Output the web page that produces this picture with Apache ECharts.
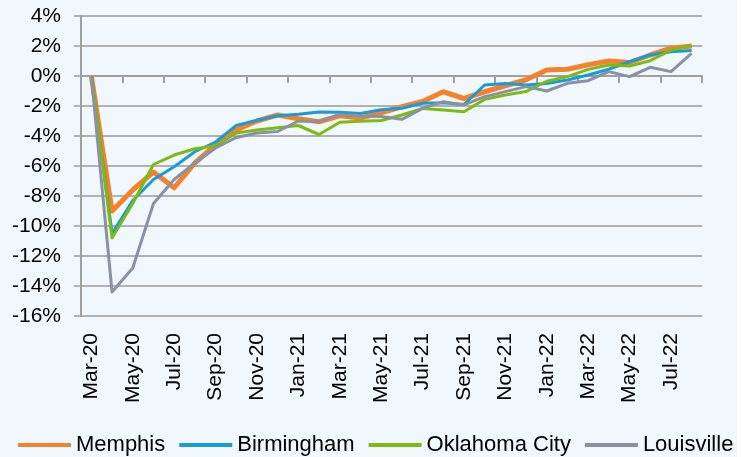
<!DOCTYPE html>
<html>
<head>
<meta charset="utf-8">
<script src="https://cdn.jsdelivr.net/npm/echarts@6/dist/echarts.min.js"></script>
<style>
html,body{margin:0;padding:0;background:#ffffff;}
#bg{position:absolute;left:0;top:0;width:737px;height:457px;background:#F0F8FE;}
#chart{position:absolute;left:0;top:0;width:743px;height:457px;}
</style>
</head>
<body>
<div id="bg"></div>
<div id="chart"></div>
<script>
const months = ['Mar-20','Apr-20','May-20','Jun-20','Jul-20','Aug-20','Sep-20','Oct-20','Nov-20','Dec-20',
  'Jan-21','Feb-21','Mar-21','Apr-21','May-21','Jun-21','Jul-21','Aug-21','Sep-21','Oct-21','Nov-21','Dec-21',
  'Jan-22','Feb-22','Mar-22','Apr-22','May-22','Jun-22','Jul-22','Aug-22'];
const memphis = [0, -9.0, -7.6, -6.4, -7.45, -5.8, -4.6, -3.6, -3.0, -2.6, -2.85, -3.05, -2.65, -2.8, -2.45, -2.05, -1.7, -1.05, -1.5, -1.05, -0.65, -0.25, 0.4, 0.45, 0.75, 1.0, 0.9, 1.4, 1.85, 2.0];
const birmingham = [0, -10.5, -8.3, -6.9, -6.05, -5.05, -4.4, -3.3, -2.95, -2.65, -2.55, -2.4, -2.42, -2.5, -2.25, -2.15, -1.82, -1.78, -1.9, -0.6, -0.5, -0.6, -0.5, -0.27, 0.07, 0.45, 0.95, 1.4, 1.62, 1.7];
const oklahomaCity = [0, -10.8, -8.5, -5.9, -5.27, -4.85, -4.65, -3.8, -3.6, -3.45, -3.3, -3.9, -3.08, -3.02, -2.97, -2.6, -2.16, -2.27, -2.38, -1.56, -1.27, -1.04, -0.35, -0.04, 0.44, 0.73, 0.67, 1.02, 1.73, 2.0];
const louisville = [0, -14.4, -12.8, -8.5, -6.9, -5.8, -4.8, -4.1, -3.8, -3.7, -3.0, -3.04, -2.56, -2.67, -2.7, -2.89, -2.16, -1.71, -1.93, -1.38, -1.04, -0.71, -1.0, -0.49, -0.31, 0.29, -0.04, 0.58, 0.29, 1.51];
const yMin = -16, yMax = 4, yStep = 2;

const font = '"Liberation Sans", Arial, sans-serif';
const chart = echarts.init(document.getElementById('chart'), null, {renderer:'canvas'});
function mk(name, data, color, width){
  return {name, type:'line', data, xAxisIndex:0, yAxisIndex:0, showSymbol:false, symbol:'none',
    lineStyle:{color, width, join:'round'}, itemStyle:{color}, animation:false};
}
chart.setOption({
  backgroundColor:'transparent',
  animation:false,
  grid:{left:81, right:41, top:16, bottom:141},
  xAxis:[{
    type:'category', data:months, boundaryGap:true,
    axisLine:{show:true, onZero:true, lineStyle:{color:'#a0a0a0', width:2}},
    axisTick:{show:true, interval:1, length:7, lineStyle:{color:'#a0a0a0', width:2}},
    axisLabel:{show:false}, splitLine:{show:false}
  },{
    type:'category', data:months, boundaryGap:true, position:'bottom',
    axisLine:{show:false, onZero:false}, axisTick:{show:false},
    axisLabel:{show:true, interval:1, rotate:90, margin:17, fontSize:21, fontFamily:font, color:'#000'},
    splitLine:{show:false}
  }],
  yAxis:{
    type:'value', min:yMin, max:yMax, interval:yStep,
    axisLine:{show:true, lineStyle:{color:'#a0a0a0', width:2}},
    axisTick:{show:true, length:7, lineStyle:{color:'#9a9a9a', width:1.5}},
    axisLabel:{formatter:'{value}%', fontSize:21, fontFamily:font, color:'#000', margin:20},
    splitLine:{show:true, lineStyle:{color:'#9a9a9a', width:1.5}}
  },
  legend:{
    left:18, top:434, width:740, padding:0, icon:'rect', itemWidth:53, itemHeight:4, itemGap:14,
    textStyle:{fontSize:22, fontFamily:font, color:'#000'},
    data:['Memphis','Birmingham','Oklahoma City','Louisville']
  },
  series:[
    mk('Memphis', memphis, '#F4822A', 5),
    mk('Birmingham', birmingham, '#1A9AD6', 3),
    mk('Oklahoma City', oklahomaCity, '#7DBB12', 3),
    mk('Louisville', louisville, '#8A91A5', 3)
  ]
});
</script>
</body>
</html>
